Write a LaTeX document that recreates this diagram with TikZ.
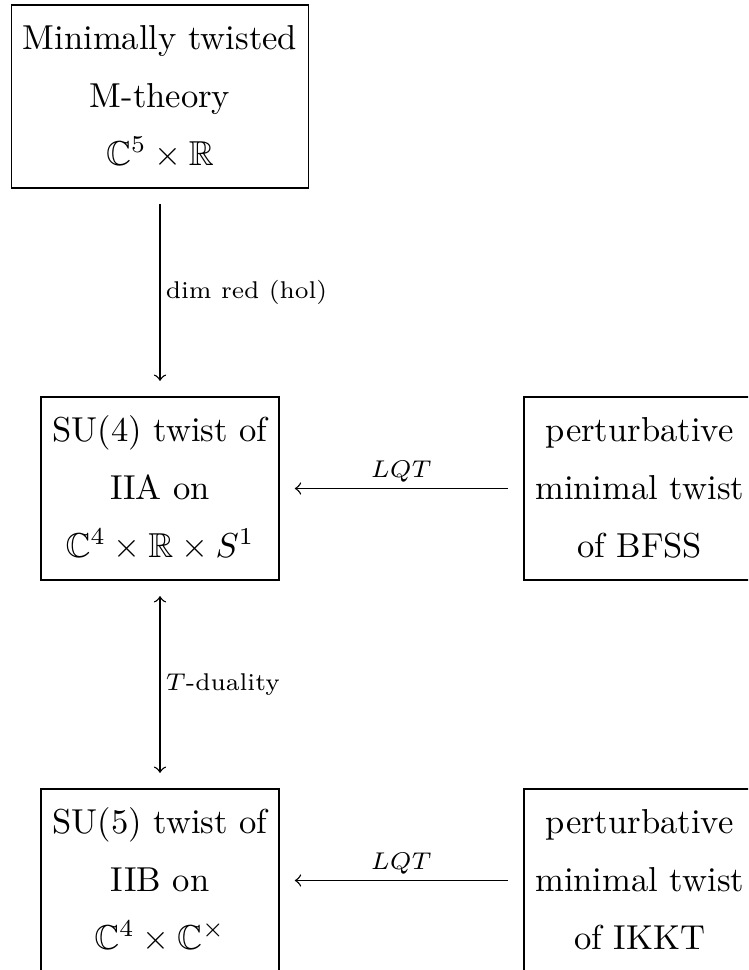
\documentclass[tikz,border=0pt]{standalone}
\usepackage{amsmath,amssymb}
\newcommand\topstr{\rule{0pt}{9.5pt}}
\newcommand\botstr{\rule[-3.2pt]{0pt}{3.2pt}}
\begin{document}
\begin{tikzpicture}[x=0.289pt,y=-0.289pt,
  box/.style={draw,line width=0.45pt,align=center,inner sep=3.33pt,
    font=\fontsize{10}{16.8}\selectfont},
  arr/.style={line width=0.4pt,shorten >=4.4pt,shorten <=4.4pt},
  lbl/.style={font=\scriptsize,inner sep=1.5pt}]
\useasboundingbox (0,0) rectangle (748,970);
\clip (0,0) rectangle (748,970);
\node[box] (top) at (160,96.5) {\topstr Minimally twisted\\M-theory\\$\mathbb{C}^5\times\mathbb{R}$\botstr};
\node[box] (mid) at (160,488.5) {\topstr SU(4) twist of\\IIA on\\$\mathbb{C}^4\times\mathbb{R}\times S^1$\botstr};
\node[box,anchor=west] (bfss) at (523,488.5) {\topstr perturbative\\minimal twist\\of BFSS\botstr};
\node[box] (bot) at (160,880.5) {\topstr SU(5) twist of\\IIB on\\$\mathbb{C}^4\times\mathbb{C}^\times$\botstr};
\node[box,anchor=west] (ikkt) at (523,880.5) {\topstr perturbative\\minimal twist\\of IKKT\botstr};
\draw[arr,->] (top) -- node[lbl,right] {dim red (hol)} (mid);
\draw[arr,<->] (mid) -- node[lbl,right] {$T$-duality} (bot);
\draw[arr,->] (bfss) -- node[lbl,above] {$LQT$} (mid);
\draw[arr,->] (ikkt) -- node[lbl,above] {$LQT$} (bot);
\end{tikzpicture}
\end{document}
